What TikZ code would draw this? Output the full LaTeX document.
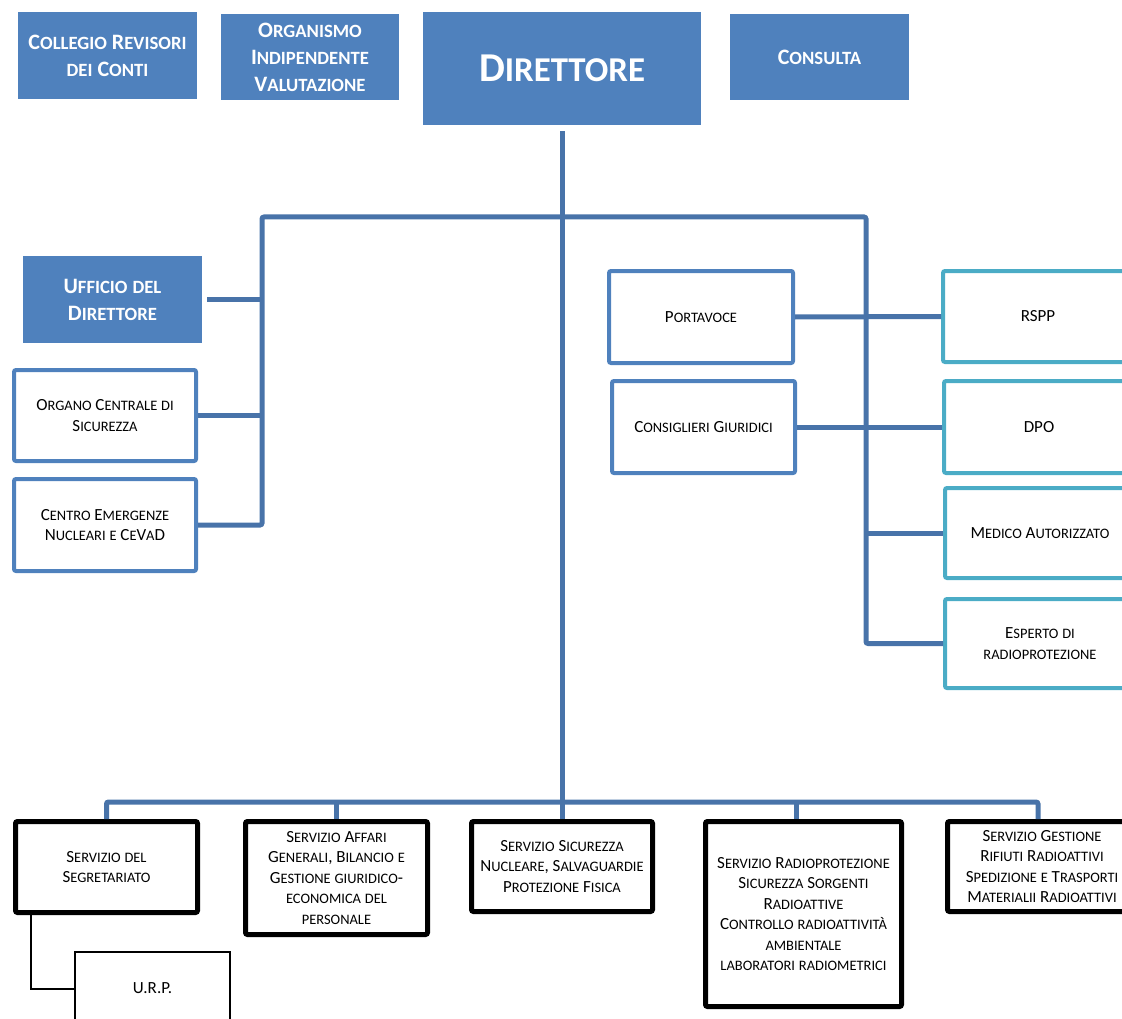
\documentclass[tikz,border=0pt]{standalone}
\usepackage{fontspec}
\setmainfont{Carlito}
\definecolor{boxblue}{HTML}{4F81BD}
\definecolor{lineblue}{HTML}{4873A9}
\definecolor{boxteal}{HTML}{4BACC6}

% Carlito has no small caps: lower case letters are set as smaller capitals
\ExplSyntaxOn
\tl_new:N \l__fsc_tl
\cs_new_protected:Npn \fscspace { \c_space_tl }
\cs_new_protected:Npn \__fsc_small:n #1
  {
    { \fontsize { \fp_eval:n { 0.85 * \use:c { f@size } } } { \tex_the:D \baselineskip } \selectfont #1 }
  }
\cs_new_protected:Npn \fakesc #1
  {
    \tl_set:Nn \l__fsc_tl {#1}
    \tl_replace_all:Nnn \l__fsc_tl { ~ } { \fscspace }
    \tl_map_inline:Nn \l__fsc_tl
      {
        \token_if_cs:NTF ##1 { ##1 }
          {
            \str_if_eq:eeTF { \text_uppercase:n {##1} } {##1}
              { ##1 }
              { \__fsc_small:n { \text_uppercase:n {##1} } }
          }
      }
  }
\ExplSyntaxOff

\begin{document}
\begin{tikzpicture}[x=1pt,y=-1pt]
    \tikzset{
        topbox/.style={fill=boxblue,text=white,align=center,inner sep=0pt,
            font=\fontsize{22}{27}\selectfont\bfseries},
        unitbox/.style={draw=boxblue,line width=4pt,rounded corners=2pt,align=center,inner sep=0pt,
            font=\fontsize{17}{20.5}\selectfont},
        staffbox/.style={unitbox,draw=boxteal},
        servbox/.style={unitbox,draw=black,line width=5pt},
        link/.style={draw=lineblue,line width=5pt,rounded corners=2pt},
        urplink/.style={draw=black,line width=2pt},
    }
    \useasboundingbox (0,0) rectangle (1122,1019);
    \clip (0,0) rectangle (1122,1019);

    \node[topbox,minimum width=179,minimum height=87] (coll) at (107.5,55.5) {\fakesc{Collegio Revisori\\dei Conti}};
    \node[topbox,minimum width=178,minimum height=86] (oiv) at (310,57) {\fakesc{Organismo\\Indipendente\\Valutazione}};
    \node[topbox,minimum width=278,minimum height=113,font=\fontsize{41}{44}\selectfont\bfseries] (dir) at (562,68.5) {\fakesc{Direttore}};
    \node[topbox,minimum width=179,minimum height=86] (cons) at (819.5,57) {\fakesc{Consulta}};

    \node[topbox,minimum width=179,minimum height=87] (uff) at (112.5,299.5) {\fakesc{Ufficio del\\Direttore}};
    \node[unitbox,minimum width=182,minimum height=91] (organo) at (105,415.5) {\fakesc{Organo Centrale di\\Sicurezza}};
    \node[unitbox,minimum width=182,minimum height=92] (centro) at (105,525) {\fakesc{Centro Emergenze\\Nucleari e CeVaD}};

    \node[unitbox,minimum width=184,minimum height=92] (port) at (701,317) {\fakesc{Portavoce}};
    \node[unitbox,minimum width=183,minimum height=92] (consg) at (703.5,427) {\fakesc{Consiglieri Giuridici}};
    \node[staffbox,minimum width=190,minimum height=91] (rspp) at (1038,316.5) {RSPP};
    \node[staffbox,minimum width=190,minimum height=92] (dpo) at (1039,427) {DPO};
    \node[staffbox,minimum width=190,minimum height=90] (medico) at (1040,533) {\fakesc{Medico Autorizzato}};
    \node[staffbox,minimum width=190,minimum height=89] (esperto) at (1040,643.5) {\fakesc{Esperto di\\radioprotezione}};

    \node[servbox,minimum width=182,minimum height=91] (segr) at (106.5,867) {\fakesc{Servizio del\\Segretariato}};
    \node[servbox,minimum width=182,minimum height=113] (aff) at (336.5,878) {\fakesc{Servizio Affari\\Generali, Bilancio e\\Gestione giuridico-\\economica del\\personale}};
    \node[servbox,minimum width=181,minimum height=90] (sic) at (562,866.5) {\fakesc{Servizio Sicurezza\\Nucleare, Salvaguardie\\Protezione Fisica}};
    \node[servbox,minimum width=196,minimum height=185] (radio) at (803.5,914) {\fakesc{Servizio Radioprotezione\\Sicurezza Sorgenti\\Radioattive\\Controllo radioattività\\ambientale\\laboratori radiometrici}};
    \node[servbox,minimum width=189,minimum height=90] (gest) at (1042,866.5) {\fakesc{Servizio Gestione\\Rifiuti Radioattivi\\Spedizione e Trasporti\\Materialii Radioattivi}};
    \node[unitbox,draw=black,line width=2pt,rounded corners=0pt,minimum width=155,minimum height=73] (urp) at (152.5,988.5) {U.R.P.};

    \coordinate (busl) at (262,217);
    \coordinate (busr) at (866,217);
    \coordinate (sbl) at (107,802);
    \coordinate (sbr) at (1038,802);
    \coordinate (rtap) at (796,802);

    \draw[link] ([yshift=-6pt]dir.south) -- (dir.south |- sbl);
    \draw[link] (centro.east) -| (busl) -- (busr) |- (esperto.west);
    \draw[link] ([xshift=5pt]uff.east) -- (uff.east -| busl);
    \draw[link] (organo.east) -- (organo.east -| busl);
    \draw[link] (port.east) -- (rspp.west);
    \draw[link] (consg.east) -- (dpo.west);
    \draw[link] (medico.west -| busr) -- (medico.west);

    \draw[link] (segr.north) |- (sbr) -- (sbr |- gest.north);
    \foreach \unit in {aff,sic}
        \draw[link] (\unit.north) -- (\unit.north |- sbl);
    \draw[link] (rtap) -- (rtap |- radio.north);
    \draw[urplink] ([xshift=18pt]segr.south west) |- (urp.west);
\end{tikzpicture}
\end{document}
